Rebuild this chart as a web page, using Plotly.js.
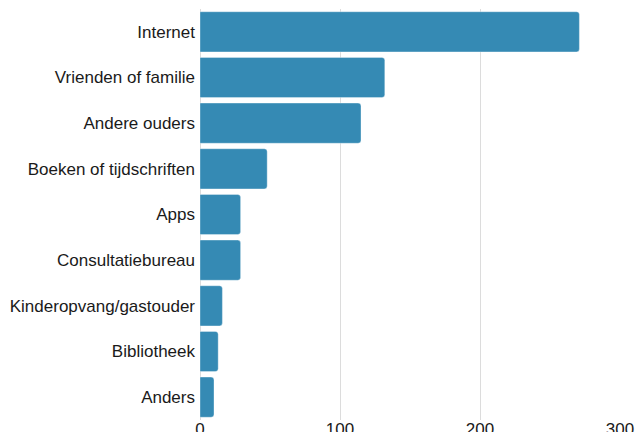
<!DOCTYPE html>
<html>
<head>
<meta charset="utf-8">
<script src="https://cdn.plot.ly/plotly-3.0.1.min.js"></script>
<style>html,body{margin:0;padding:0;background:#fff;}#chart{width:638px;height:432px;}</style>
</head>
<body>
<div id="chart"></div>
<script>
const categories = ["Internet","Vrienden of familie","Andere ouders","Boeken of tijdschriften","Apps","Consultatiebureau","Kinderopvang/gastouder","Bibliotheek","Anders"];
const values = [271, 132, 115, 48, 29, 29, 16, 13, 10];
const tickValues = [0, 100, 200, 300];

Plotly.newPlot('chart', [{
  type: 'bar',
  orientation: 'h',
  y: categories,
  x: values,
  marker: {color: '#358ab4', line: {color: 'rgba(255,255,255,0.35)', width: 1}, cornerradius: 3},
  hoverinfo: 'x+y'
}], {
  width: 638, height: 432,
  margin: {l: 200, r: 18, t: 9, b: 12},
  paper_bgcolor: '#fff', plot_bgcolor: '#fff',
  font: {family: 'Liberation Sans, Arial, sans-serif', size: 17, color: '#1a1a1a'},
  bargap: 0.12,
  showlegend: false,
  xaxis: {range: [0, 300], tickvals: tickValues, showgrid: true, gridcolor: '#dcdcdc', gridwidth: 1, zeroline: true, zerolinecolor: '#dcdcdc', zerolinewidth: 1, showline: false, ticks: '', ticklabelstandoff: -3, tickfont: {size: 17}},
  yaxis: {autorange: 'reversed', showgrid: false, zeroline: false, showline: false, ticks: '', ticklabelstandoff: 4, tickfont: {size: 17}}
}, {displayModeBar: false, staticPlot: true});
</script>
</body>
</html>
